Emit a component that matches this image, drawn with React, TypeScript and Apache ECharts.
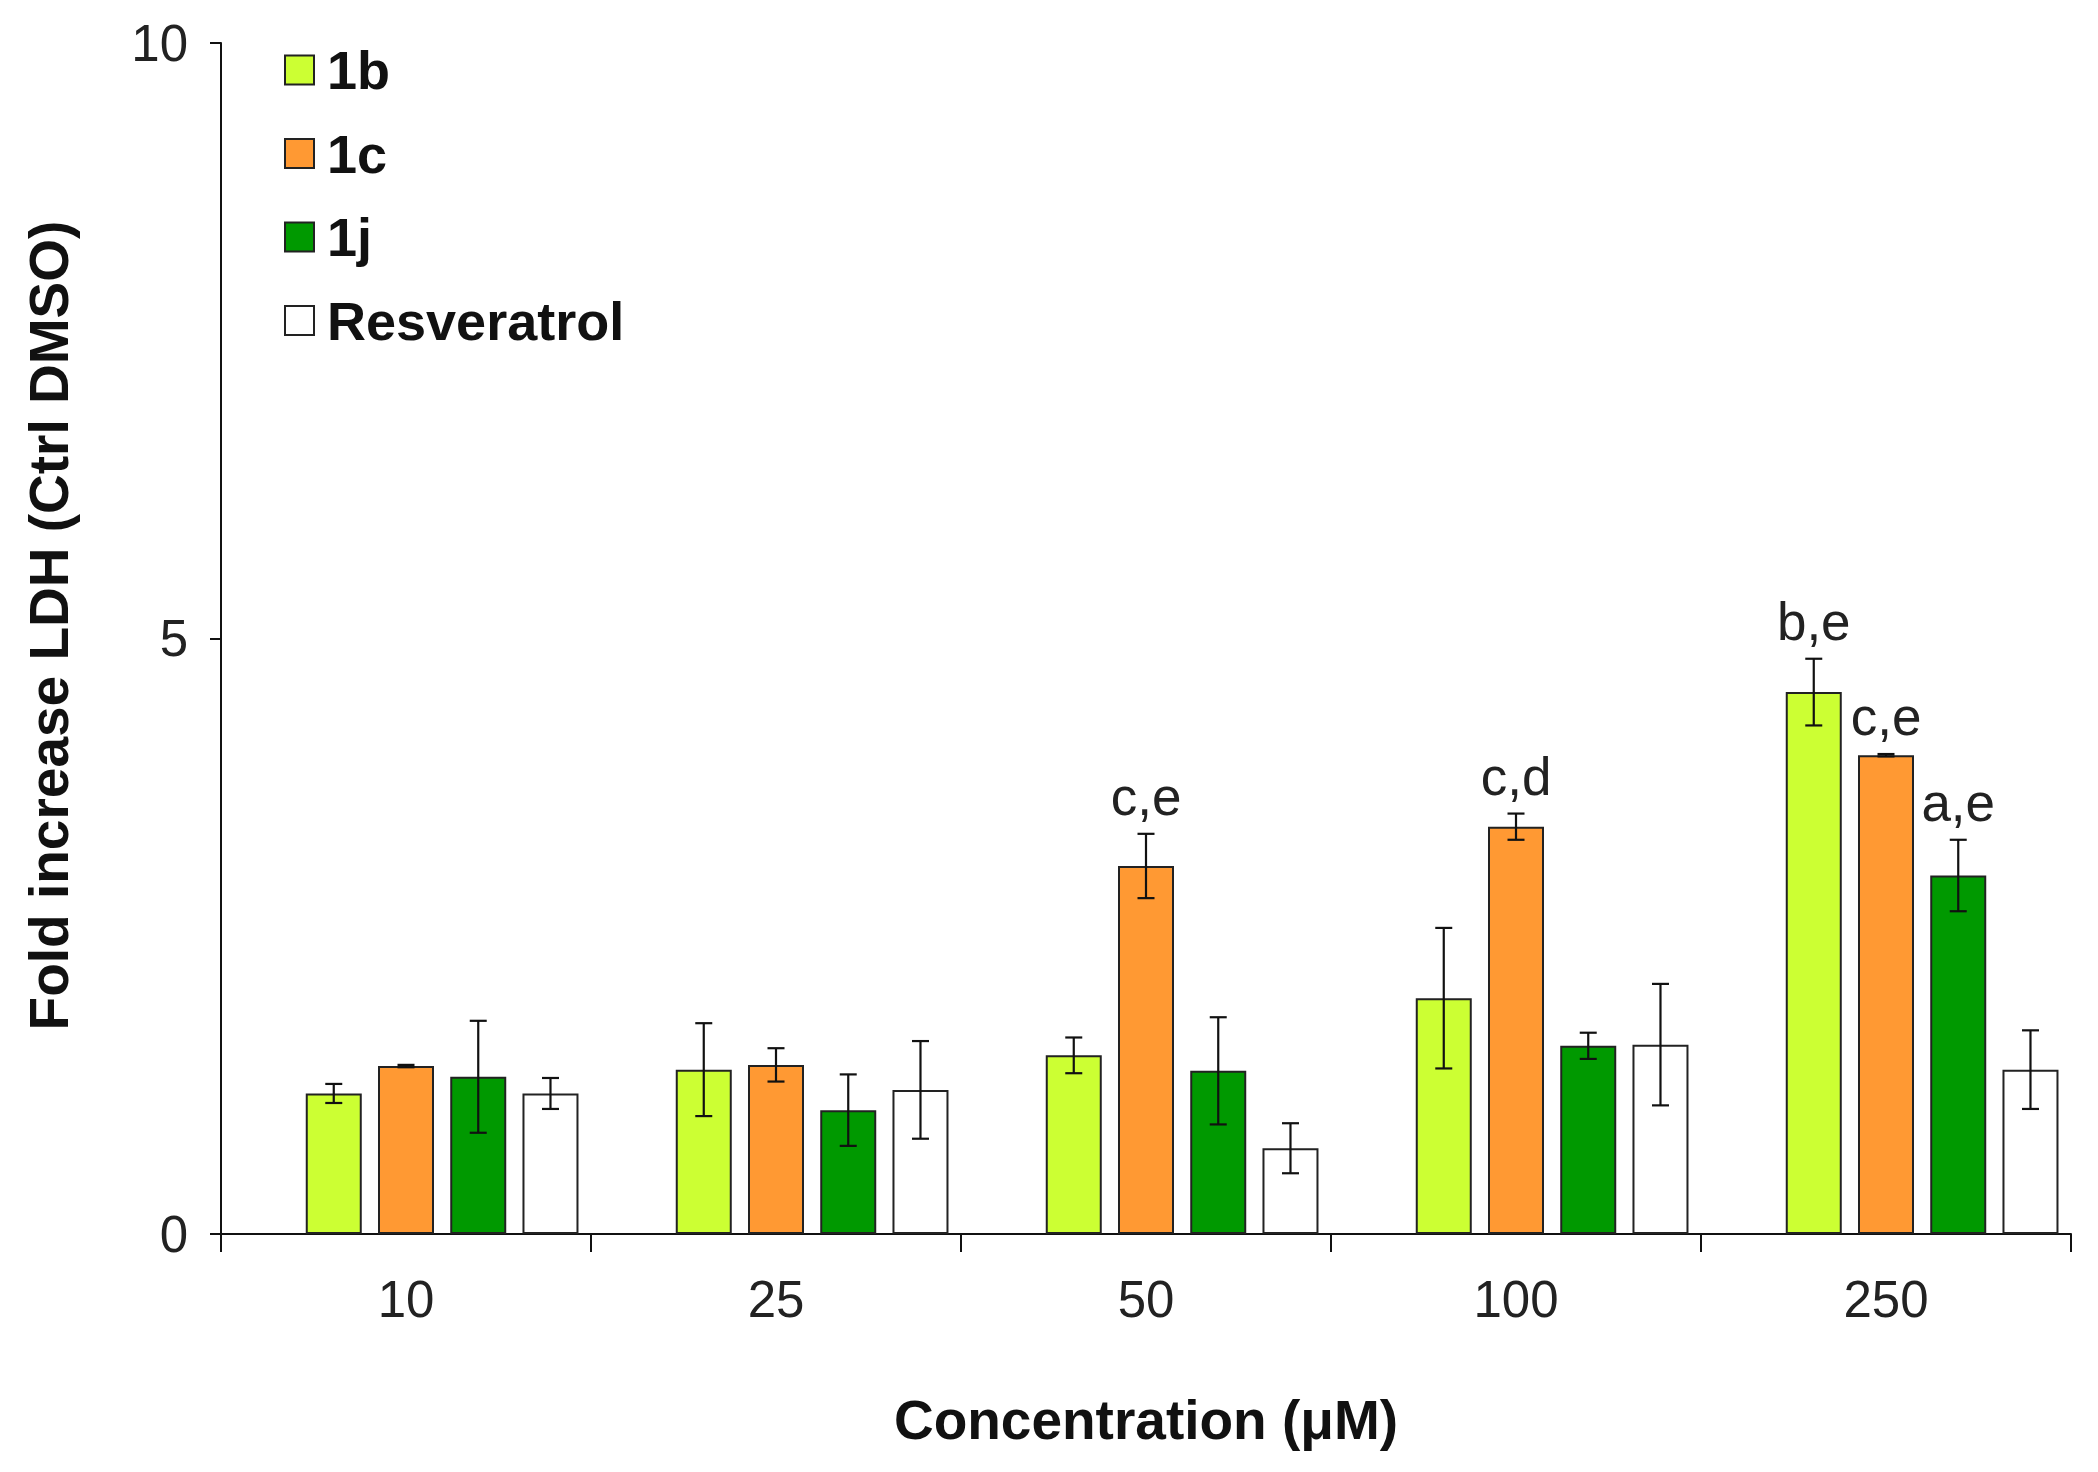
import React, { useEffect, useRef } from "react";
import * as echarts from "echarts";

const categories = ["10", "25", "50", "100", "250"];
const seriesNames = ["1b", "1c", "1j", "Resveratrol"];

const values1b = [1.18, 1.38, 1.5, 1.98, 4.55];
const values1c = [1.41, 1.42, 3.09, 3.42, 4.02];
const values1j = [1.32, 1.04, 1.37, 1.58, 3.01];
const valuesRes = [1.18, 1.21, 0.72, 1.59, 1.38];

const errors1b = [0.08, 0.39, 0.15, 0.59, 0.28];
const errors1c = [0.01, 0.14, 0.27, 0.11, 0.01];
const errors1j = [0.47, 0.3, 0.45, 0.11, 0.3];
const errorsRes = [0.13, 0.41, 0.21, 0.51, 0.33];

const labels1b = ["", "", "", "", "b,e"];
const labels1c = ["", "", "c,e", "c,d", "c,e"];
const labels1j = ["", "", "", "", "a,e"];
const labelsRes = ["", "", "", "", ""];

const yTicks = [0, 5, 10];

const colors = ["#CCFF33", "#FF9933", "#009900", "#FFFFFF"];

const BAR_WIDTH = 56;
const BAR_GAP = 0.29;
const PITCH = BAR_WIDTH * (1 + BAR_GAP);
const FONT = "'Liberation Sans', Arial, Helvetica, sans-serif";

export default function App() {
  const ref = useRef<HTMLDivElement>(null);

  useEffect(() => {
    if (!ref.current) return;
    const chart = echarts.init(ref.current, undefined, { renderer: "svg" });

    const allValues = [values1b, values1c, values1j, valuesRes];
    const allErrors = [errors1b, errors1c, errors1j, errorsRes];
    const allLabels = [labels1b, labels1c, labels1j, labelsRes];

    const errData: number[][] = [];
    const errLabels: string[] = [];
    allValues.forEach((vals, s) => {
      vals.forEach((v, c) => {
        errData.push([c, v, allErrors[s][c], s + 1]);
        errLabels.push(allLabels[s][c]);
      });
    });

    const barSeries = seriesNames.map((name, s) => ({
      name,
      type: "bar",
      barWidth: BAR_WIDTH,
      barGap: `${BAR_GAP * 100}%`,
      data: allValues[s],
      itemStyle: { color: colors[s], borderColor: "#222", borderWidth: 2 },
      z: 2,
    }));

    const option: any = {
      animation: false,
      backgroundColor: "#ffffff",
      grid: { left: 221, right: 27, top: 43, bottom: 238, containLabel: false },
      legend: {
        data: seriesNames,
        orient: "vertical",
        left: 284,
        top: 43,
        padding: 0,
        itemWidth: 29,
        itemHeight: 29,
        itemGap: 29.5,
        icon: "rect",
        itemStyle: { borderColor: "#222", borderWidth: 2 },
        textStyle: {
          fontFamily: FONT,
          fontWeight: "bold",
          fontSize: 54,
          lineHeight: 54,
          color: "#111",
          padding: [0, 0, 0, 8],
        },
        selectedMode: false,
      },
      xAxis: {
        type: "category",
        data: categories,
        boundaryGap: true,
        name: "Concentration (μM)",
        nameLocation: "middle",
        nameGap: 158,
        nameTextStyle: { fontFamily: FONT, fontWeight: "bold", fontSize: 55, color: "#111" },
        axisLine: { lineStyle: { color: "#111", width: 2 } },
        axisTick: { show: true, alignWithLabel: false, length: 18, inside: false, lineStyle: { color: "#111", width: 2 } },
        axisLabel: { fontFamily: FONT, fontSize: 51, color: "#222", margin: 40 },
        splitLine: { show: false },
      },
      yAxis: {
        type: "value",
        min: yTicks[0],
        max: yTicks[yTicks.length - 1],
        interval: yTicks[1] - yTicks[0],
        name: "Fold increase LDH (Ctrl DMSO)",
        nameLocation: "middle",
        nameGap: 145,
        nameTextStyle: {
          fontFamily: FONT,
          fontWeight: "bold",
          fontSize: 55,
          color: "#111",
          padding: [0, 0, 0, 26],
        },
        axisLine: { show: true, lineStyle: { color: "#111", width: 2 } },
        axisTick: { show: true, length: 11, lineStyle: { color: "#111", width: 2 } },
        axisLabel: { fontFamily: FONT, fontSize: 51, color: "#222", margin: 33 },
        splitLine: { show: false },
      },
      series: [
        {
          name: "_placeholder",
          type: "bar",
          barWidth: BAR_WIDTH,
          barGap: `${BAR_GAP * 100}%`,
          data: categories.map(() => null),
          silent: true,
        },
        ...barSeries,
        {
          name: "_errors",
          type: "custom",
          z: 10,
          silent: true,
          encode: { x: 0, y: 1 },
          data: errData,
          renderItem: (params: any, api: any) => {
            const c = api.value(0);
            const v = api.value(1);
            const e = api.value(2);
            const slot = api.value(3);
            const base = api.coord([c, v]);
            const x = base[0] + (slot - 2) * PITCH;
            const yTop = api.coord([c, v + e])[1];
            const yBot = api.coord([c, v - e])[1];
            const cap = 8.5;
            const stroke = { stroke: "#111", lineWidth: 2.2 };
            const children: any[] = [
              { type: "line", shape: { x1: x, y1: yTop, x2: x, y2: yBot }, style: stroke },
              { type: "line", shape: { x1: x - cap, y1: yTop, x2: x + cap, y2: yTop }, style: stroke },
              { type: "line", shape: { x1: x - cap, y1: yBot, x2: x + cap, y2: yBot }, style: stroke },
            ];
            const label = errLabels[params.dataIndex];
            if (label) {
              children.push({
                type: "text",
                x,
                y: yTop - 11,
                style: {
                  text: label,
                  fontFamily: FONT,
                  fontSize: 53,
                  fill: "#222",
                  align: "center",
                  verticalAlign: "bottom",
                },
              });
            }
            return { type: "group", children };
          },
        },
      ],
    };

    chart.setOption(option);
    return () => chart.dispose();
  }, []);

  return (
    <div
      ref={ref}
      style={{ position: "fixed", left: 0, top: 0, width: 2098, height: 1472, background: "#fff" }}
    />
  );
}
